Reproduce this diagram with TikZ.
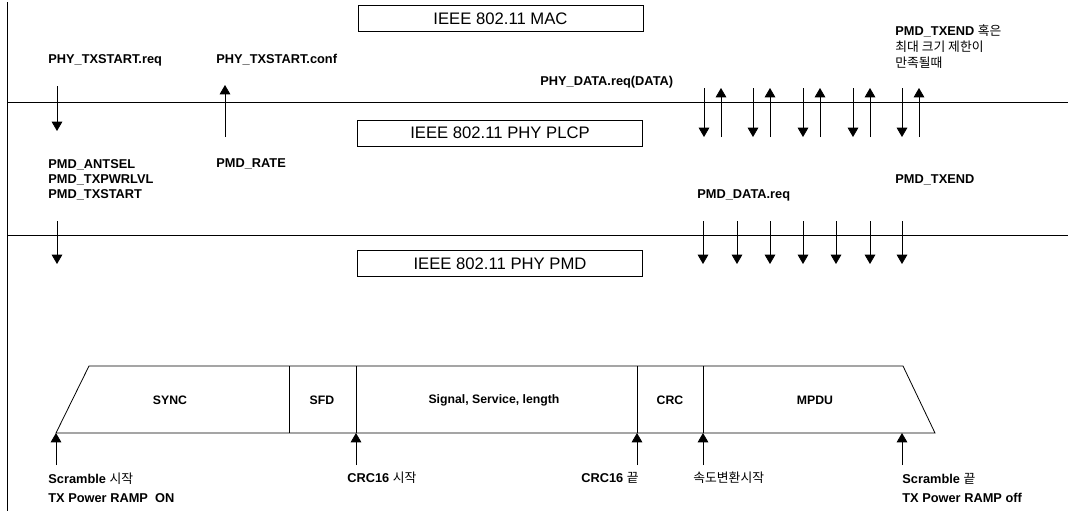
\documentclass[tikz,border=0pt]{standalone}
\usepackage{fontspec}
\setmainfont{Liberation Sans}
\newfontfamily\kr{Noto Sans CJK KR}
\usetikzlibrary{arrows.meta,positioning}

\begin{document}
\begin{tikzpicture}[x=0.75pt,y=-0.75pt,line width=0.6pt,>={Triangle[width=8pt,length=7pt]},
    lab/.style={anchor=west,inner sep=0pt,font=\fontsize{9.6}{12}\selectfont\bfseries},
    labs/.style={lab,anchor=north west,align=left},
    layer/.style={draw,inner sep=0pt,minimum width=213.75pt,minimum height=19pt,font=\fontsize{12.5}{14}\selectfont},
    fld/.style={inner sep=0pt,font=\fontsize{9.2}{11}\selectfont\bfseries}]
  \useasboundingbox (0,0) rectangle (1068,511);
  % service boundaries
  \coordinate (top) at (7,2); \coordinate (bot) at (7,511);
  \coordinate (u1) at (7,102); \coordinate (u2) at (1068,102);
  \coordinate (v1) at (7,235); \coordinate (v2) at (1068,235);
  \draw (top) -- (bot) (u1) -- (u2) (v1) -- (v2);
  \node[layer] (mac) at (500.5,18.5) {IEEE 802.11 MAC};
  \node[layer,minimum height=19.5pt] (plcp) at (500,133) {IEEE 802.11 PHY PLCP};
  \node[layer] (pmd) at (500,263.5) {IEEE 802.11 PHY PMD};

  % primitives
  \node[lab] (txreq) at (48,60) {PHY\_TXSTART.req};
  \node[lab] (txconf) at (216,60) {PHY\_TXSTART.conf};
  \node[lab] (datareq) at (540,82) {PHY\_DATA.req(DATA)};
  \node[labs,font=\fontsize{9.6}{12}\selectfont\bfseries] (txendq) at (895,24)
    {PMD\_TXEND {\kr\mdseries 혹은}\\{\kr\mdseries 최대 크기 제한이}\\{\kr\mdseries 만족될때}};
  \node[labs,font=\fontsize{9.6}{11.25}\selectfont\bfseries] (pmdset) at (48,159)
    {PMD\_ANTSEL\\PMD\_TXPWRLVL\\PMD\_TXSTART};
  \node[lab] (pmdrate) at (216,164) {PMD\_RATE};
  \node[lab] (pmddata) at (697,195) {PMD\_DATA.req};
  \node[lab] (pmdend) at (895,180) {PMD\_TXEND};

  \coordinate (a1) at (57,86); \coordinate (a2) at (57,131);
  \coordinate (b1) at (225,137); \coordinate (b2) at (225,85);
  \coordinate (c1) at (57,221); \coordinate (c2) at (57,264);
  \draw[->] (a1) -- (a2);
  \draw[->] (b1) -- (b2);
  \draw[->] (c1) -- (c2);
  \foreach \x [count=\i] in {704,753,803,853,902}{
    \coordinate (dn\i) at (\x,88); \coordinate (dn\i') at (\x,137);
    \coordinate (up\i) at (\x+17,137); \coordinate (up\i') at (\x+17,88);
    \draw[->] (dn\i) -- (dn\i');
    \draw[->] (up\i) -- (up\i');}
  \foreach \x [count=\i] in {703,737,770,803,836,870,902}{
    \coordinate (pd\i) at (\x,221); \coordinate (pd\i') at (\x,264);
    \draw[->] (pd\i) -- (pd\i');}

  % PLCP frame
  \coordinate (f1) at (56,433); \coordinate (f2) at (89,366);
  \coordinate (f3) at (903,366); \coordinate (f4) at (935,433);
  \draw (f1) -- (f2) -- (f3) -- (f4) -- cycle;
  \foreach \x in {289,356,637,703}
    \draw (\x,366) -- (\x,433);
  \node[fld] (sync) at (170,400) {SYNC};
  \node[fld] (sfd) at (322,400) {SFD};
  \node[fld] (hdr) at (494,400) {Signal, Service, length};
  \node[fld] (crc) at (670,400) {CRC};
  \node[fld] (mpdu) at (815,400) {MPDU};
  \foreach \x [count=\i] in {56,356,637,703,902}{
    \coordinate (ev\i) at (\x,465); \coordinate (ev\i') at (\x,433);
    \draw[->] (ev\i) -- (ev\i');}

  % events
  \node[labs,font=\fontsize{9.6}{14.25}\selectfont\bfseries] (scrs) at (48,473)
    {Scramble {\kr\mdseries 시작}\\TX Power RAMP\ \ ON};
  \node[lab] (crcs) at (347,478) {CRC16 {\kr\mdseries 시작}};
  \node[lab] (crce) at (581,478) {CRC16 {\kr\mdseries 끝}};
  \node[lab] (rate) at (693,478) {\kr\mdseries 속도변환시작};
  \node[labs,font=\fontsize{9.6}{14.25}\selectfont\bfseries] (scre) at (902,473)
    {Scramble {\kr\mdseries 끝}\\TX Power RAMP off};
\end{tikzpicture}
\end{document}
